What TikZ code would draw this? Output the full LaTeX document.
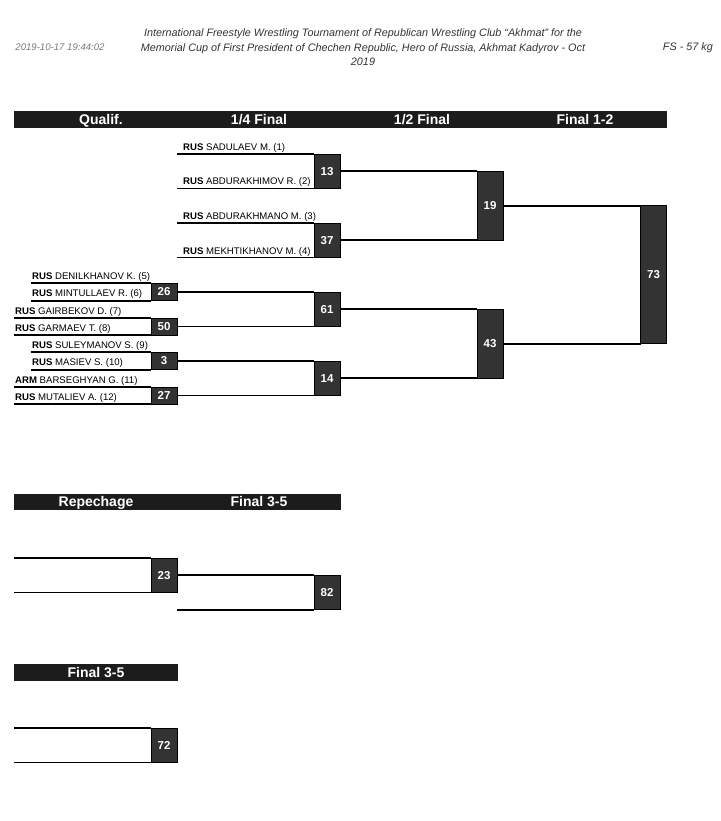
\documentclass[tikz,border=0pt]{standalone}
\usepackage{fontspec}
\setmainfont{Liberation Sans}
\definecolor{boxgray}{HTML}{333333}
\definecolor{barblack}{HTML}{1C1C1C}
\definecolor{dategray}{HTML}{7A7A7A}
\definecolor{titlegray}{HTML}{333333}
\begin{document}
\begin{tikzpicture}[x=1pt,y=-1pt,
  bar/.style={fill=barblack},
  bartext/.style={text=white,inner sep=0,anchor=base,font=\fontsize{14}{16}\selectfont\bfseries},
  score/.style={rectangle,fill=boxgray,draw=black,line width=0.7pt,minimum width=26pt,
    inner sep=0,outer sep=0,text=white,font=\fontsize{11.5}{13}\selectfont\bfseries},
  qbox/.style={score,minimum height=17.25pt},
  mbox/.style={score,minimum height=34.5pt},
  sbox/.style={score,minimum height=69pt},
  fbox/.style={score,minimum height=138pt},
  bline/.style={line width=1.9pt,black},
  wname/.style={anchor=base west,inner sep=0,font=\fontsize{9.6}{11}\selectfont},
  hdr/.style={inner sep=0,font=\fontsize{10.8}{14.5}\selectfont\itshape}
]
\fill[white] (0,0) rectangle (720,821);
\useasboundingbox (0,0) rectangle (720,821);

% page header
\node[hdr,text=dategray,font=\fontsize{9.6}{12}\selectfont\itshape] (date) at (60,47.5) {2019-10-17 19:44:02};
\node[hdr,text=titlegray,align=center] (title) at (363,47.5)
  {International Freestyle Wrestling Tournament of Republican Wrestling Club “Akhmat” for the\\
   Memorial Cup of First President of Chechen Republic, Hero of Russia, Akhmat Kadyrov - Oct\\
   2019};
\node[hdr,text=titlegray,anchor=east] (cat) at (713,47.5) {FS - 57 kg};

% round header bars
\fill[bar] (14,111.5) rectangle (667,128);
\node[bartext] (hq) at (101,124.8) {Qualif.};
\node[bartext] (hqf) at (259,124.8) {1/4 Final};
\node[bartext] (hsf) at (422,124.8) {1/2 Final};
\node[bartext] (hf) at (585,124.8) {Final 1-2};

\fill[bar] (14,493.5) rectangle (340.5,510);
\node[bartext] (hr) at (96,506.8) {Repechage};
\node[bartext] (hr35) at (259,506.8) {Final 3-5};

\fill[bar] (14,664) rectangle (177.5,680.5);
\node[bartext] (hb35) at (96,677.3) {Final 3-5};

% score boxes
\node[mbox] (b13) at (327,171.25) {13};
\node[mbox] (b37) at (327,240.25) {37};
\node[mbox] (b61) at (327,309.25) {61};
\node[mbox] (b14) at (327,378.25) {14};
\node[sbox] (b19) at (490,205.75) {19};
\node[sbox] (b43) at (490,343.75) {43};
\node[fbox] (b73) at (653.5,274.75) {73};
\node[qbox] (b26) at (164,292) {26};
\node[qbox] (b50) at (164,326.5) {50};
\node[qbox] (b3) at (164,361) {3};
\node[qbox] (b27) at (164,395.5) {27};
\node[mbox] (b23) at (164,575.25) {23};
\node[mbox] (b82) at (327,592.5) {82};
\node[mbox] (b72) at (164,745.25) {72};

% free line ends
\coordinate (s1) at (177,154);
\coordinate (s2) at (177,188.5);
\coordinate (s3) at (177,223);
\coordinate (s4) at (177,257.5);
\coordinate (s5) at (31,283.375);
\coordinate (s6) at (31,300.625);
\coordinate (s7) at (14,317.875);
\coordinate (s8) at (14,335.125);
\coordinate (s9) at (31,352.375);
\coordinate (s10) at (31,369.625);
\coordinate (s11) at (14,386.875);
\coordinate (s12) at (14,404.125);
\coordinate (r1) at (14,558);
\coordinate (r2) at (14,592.5);
\coordinate (r3) at (177,609.75);
\coordinate (f1) at (14,728);
\coordinate (f2) at (14,762.5);

% competitor lines
\draw[bline] (s1) -- (b13.north west);
\draw[bline] (s2) -- (b13.south west);
\draw[bline] (s3) -- (b37.north west);
\draw[bline] (s4) -- (b37.south west);
\draw[bline] (s5) -- (b26.north west);
\draw[bline] (s6) -- (b26.south west);
\draw[bline] (s7) -- (b50.north west);
\draw[bline] (s8) -- (b50.south west);
\draw[bline] (s9) -- (b3.north west);
\draw[bline] (s10) -- (b3.south west);
\draw[bline] (s11) -- (b27.north west);
\draw[bline] (s12) -- (b27.south west);
\draw[bline] (r1) -- (b23.north west);
\draw[bline] (r2) -- (b23.south west);
\draw[bline] (r3) -- (b82.south west);
\draw[bline] (f1) -- (b72.north west);
\draw[bline] (f2) -- (b72.south west);

% bracket connectors
\draw[bline] (b26.east) -- (b61.north west);
\draw[bline] (b50.east) -- (b61.south west);
\draw[bline] (b3.east) -- (b14.north west);
\draw[bline] (b27.east) -- (b14.south west);
\draw[bline] (b13.east) -- (b19.north west);
\draw[bline] (b37.east) -- (b19.south west);
\draw[bline] (b61.east) -- (b43.north west);
\draw[bline] (b14.east) -- (b43.south west);
\draw[bline] (b19.east) -- (b73.north west);
\draw[bline] (b43.east) -- (b73.south west);
\draw[bline] (b23.east) -- (b82.north west);

% competitor names
\node[wname] (n1) at (183,150.5) {\textbf{RUS} SADULAEV M. (1)};
\node[wname] (n2) at (183,185) {\textbf{RUS} ABDURAKHIMOV R. (2)};
\node[wname] (n3) at (183,219.5) {\textbf{RUS} ABDURAKHMANO M. (3)};
\node[wname] (n4) at (183,254) {\textbf{RUS} MEKHTIKHANOV M. (4)};
\node[wname] (n5) at (32,279.5) {\textbf{RUS} DENILKHANOV K. (5)};
\node[wname] (n6) at (32,296.75) {\textbf{RUS} MINTULLAEV R. (6)};
\node[wname] (n7) at (15,314) {\textbf{RUS} GAIRBEKOV D. (7)};
\node[wname] (n8) at (15,331.25) {\textbf{RUS} GARMAEV T. (8)};
\node[wname] (n9) at (32,348.5) {\textbf{RUS} SULEYMANOV S. (9)};
\node[wname] (n10) at (32,365.75) {\textbf{RUS} MASIEV S. (10)};
\node[wname] (n11) at (15,383) {\textbf{ARM} BARSEGHYAN G. (11)};
\node[wname] (n12) at (15,400.25) {\textbf{RUS} MUTALIEV A. (12)};
\end{tikzpicture}
\end{document}
